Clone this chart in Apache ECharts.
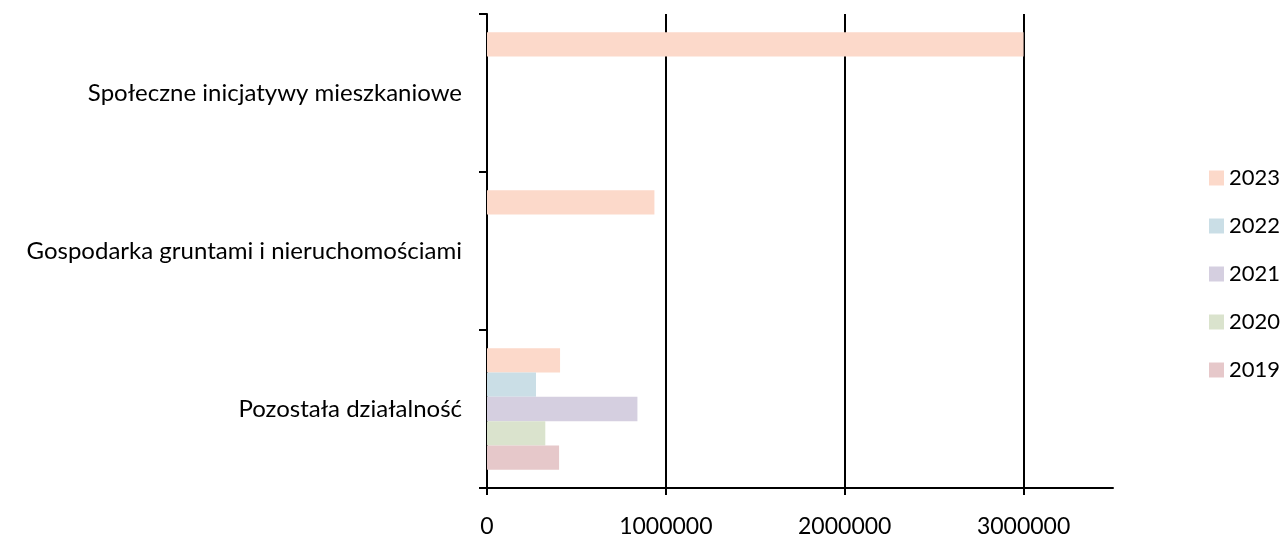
<!DOCTYPE html>
<html>
<head>
<meta charset="utf-8">
<script src="https://cdn.jsdelivr.net/npm/echarts@6/dist/echarts.min.js"></script>
<style>html,body{margin:0;padding:0;background:#fff}#c{width:1280px;height:538px}</style>
</head>
<body>
<div id="c"></div>
<script>
const categories = ['Pozostała działalność', 'Gospodarka gruntami i nieruchomościami', 'Społeczne inicjatywy mieszkaniowe'];
const years = ['2023', '2022', '2021', '2020', '2019'];
const v2023 = [408500, 936000, 3000000];
const v2022 = [274000, null, null];
const v2021 = [841000, null, null];
const v2020 = [326000, null, null];
const v2019 = [403000, null, null];
const xTicks = [0, 1000000, 2000000, 3000000];
const colors = ['#FCD9CA', '#CADEE6', '#D5CFE0', '#DAE3CD', '#E6C8CA'];

const values = [v2023, v2022, v2021, v2020, v2019];
const FONT = 'Lato';
const chart = echarts.init(document.getElementById('c'), null, {renderer: 'canvas'});
chart.setOption({
  animation: false,
  textStyle: {fontFamily: FONT},
  grid: {left: 487, right: 167, top: 14, bottom: 44, containLabel: false},
  legend: {
    orient: 'vertical', left: 1204, top: 162,
    data: years,
    itemWidth: 15, itemHeight: 15, itemGap: 26, icon: 'rect',
    textStyle: {fontSize: 22, color: '#000', fontFamily: FONT, padding: [0,0,0,0]}
  },
  xAxis: {
    type: 'value', min: 0, max: 3500000, interval: 1000000,
    axisLine: {show: true, lineStyle: {color: '#000', width: 2}},
    axisTick: {show: true, length: 7, customValues: xTicks, lineStyle: {color: '#000', width: 2}},
    axisLabel: {fontSize: 23, color: '#000', margin: 27, fontFamily: FONT, customValues: xTicks,
      formatter: v => String(v)},
    splitLine: {show: true, lineStyle: {color: '#000', width: 2}}
  },
  yAxis: {
    type: 'category', data: categories,
    axisLine: {show: true, lineStyle: {color: '#000', width: 2}},
    axisTick: {show: true, length: 8, lineStyle: {color: '#000', width: 2}},
    axisLabel: {fontSize: 24, color: '#000', margin: 25, fontFamily: FONT},
    splitLine: {show: false}
  },
  series: years.map((y, i) => ({
    name: y, type: 'bar', data: values[i],
    itemStyle: {color: colors[i]},
    barGap: '0%', barCategoryGap: '23%'
  }))
});
</script>
</body>
</html>
